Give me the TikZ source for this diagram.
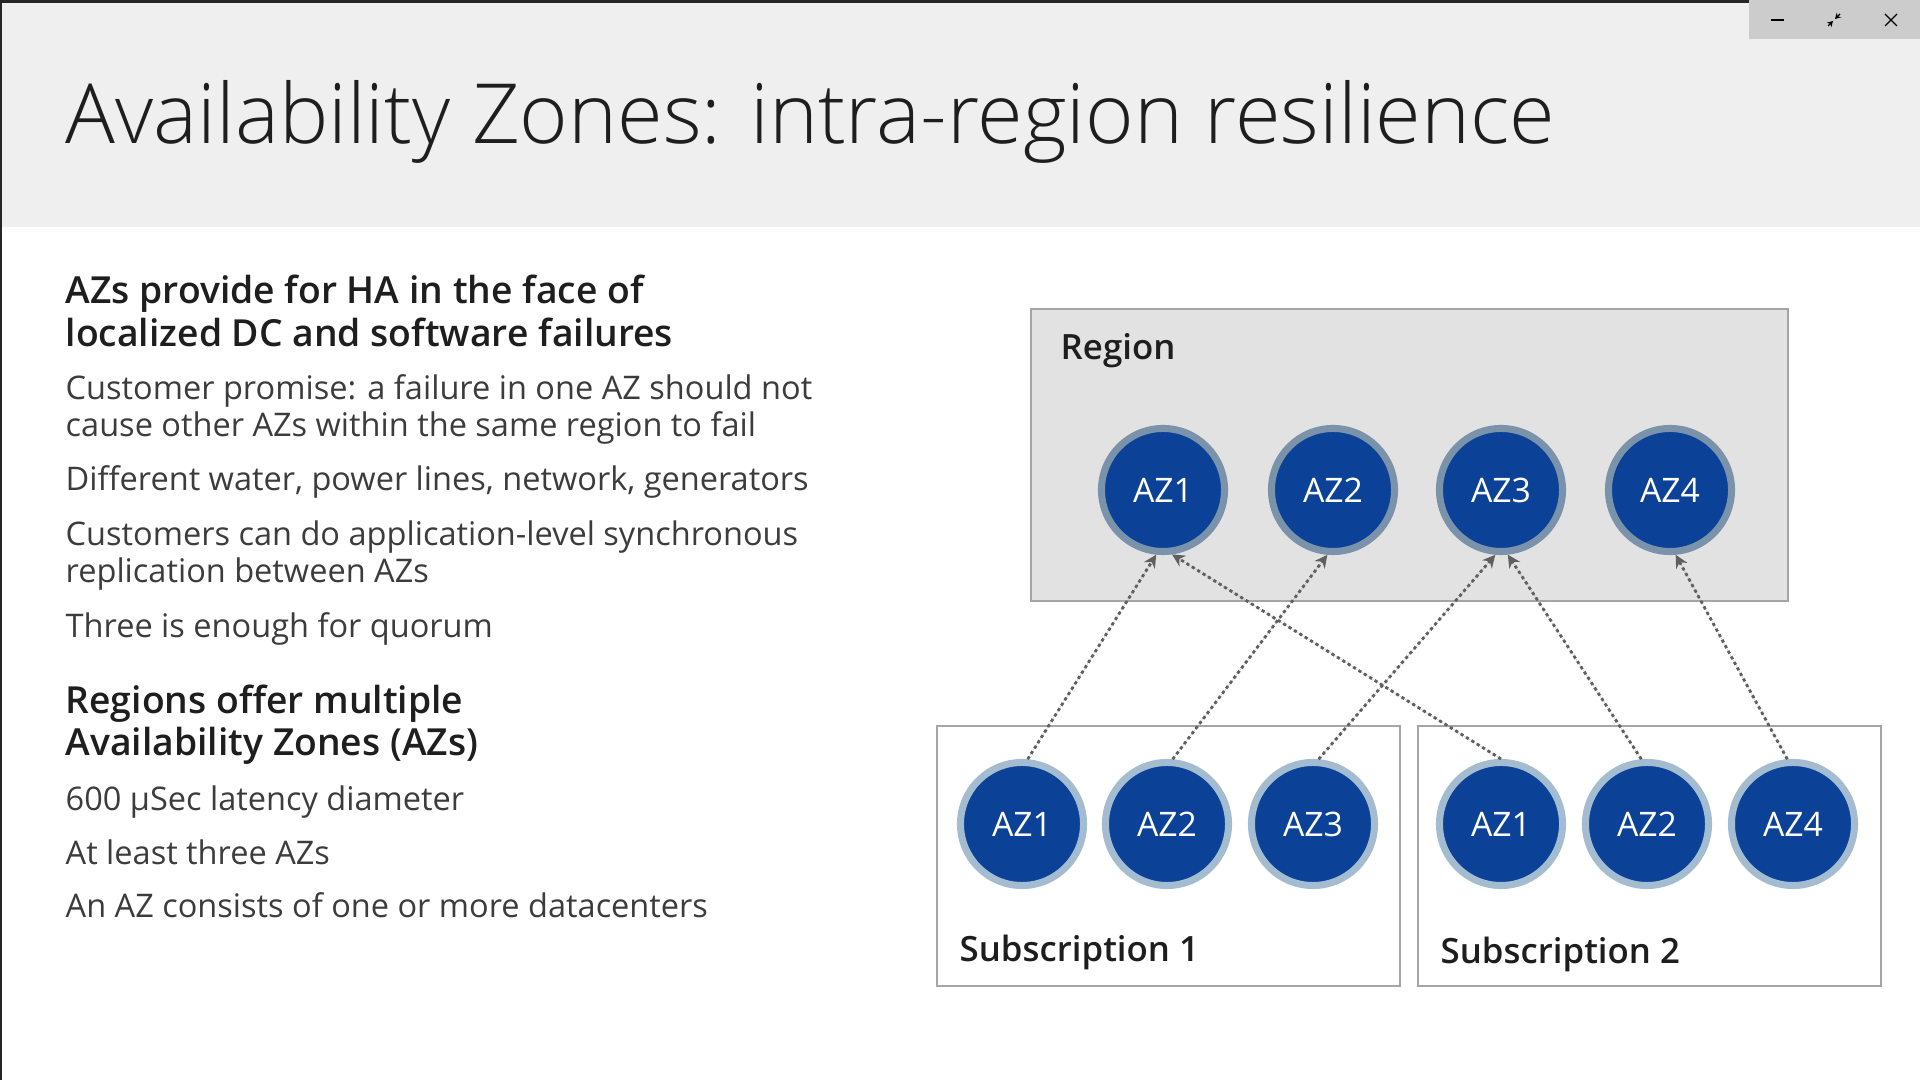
\documentclass[tikz,border=0pt]{standalone}
\usepackage{fontspec}
\usepackage{tikz}
\usetikzlibrary{arrows.meta}
\setmainfont{Open Sans}
\IfFontExistsTF{Open Sans Light}{\newfontfamily\lightfont{Open Sans Light}}{\newfontfamily\lightfont{Open Sans}}
\IfFontExistsTF{Open Sans Semibold}{\newfontfamily\semifont{Open Sans Semibold}}{\newfontfamily\semifont{Open Sans}[FakeBold=1.2]}
\definecolor{barbg}{RGB}{239,239,239}
\definecolor{btngray}{RGB}{204,204,204}
\definecolor{azblue}{RGB}{11,66,152}
\definecolor{ringtop}{RGB}{122,146,170}
\definecolor{ringbot}{RGB}{164,188,208}
\definecolor{regionbg}{RGB}{226,226,226}
\definecolor{boxline}{RGB}{165,165,165}
\definecolor{linkgray}{RGB}{95,95,95}
\definecolor{bodygray}{RGB}{60,60,60}
\definecolor{headgray}{RGB}{30,30,30}

\begin{document}
\begin{tikzpicture}[x=0.01cm,y=-0.01cm,
  zone/.style={circle,fill=azblue,draw=#1,line width=2pt,minimum size=1.23cm,inner sep=0pt,
    text=white,font=\fontsize{9.6}{11}\selectfont},
  link/.style={-{Stealth[length=3.6pt,width=3.6pt]},draw=linkgray,fill=linkgray,line width=0.8pt,
    dash pattern=on 0.9pt off 0.9pt},
  body/.style={anchor=base west,inner sep=0pt,text=bodygray,font=\fontsize{9.25}{11}\selectfont},
  head/.style={anchor=base west,inner sep=0pt,text=headgray,font=\semifont\fontsize{10.6}{12}\selectfont},
  boxlabel/.style={anchor=base west,inner sep=0pt,text=headgray,font=\semifont\fontsize{9.9}{12}\selectfont}]
  \useasboundingbox (0,0) rectangle (1920,1080);
  \fill[white] (0,0) rectangle (1920,1080);
  % title bar and window frame
  \fill[barbg] (0,0) rectangle (1920,227);
  \fill[black!85] (0,0) rectangle (1920,3);
  \fill[black!85] (0,0) rectangle (2,1080);
  \fill[btngray] (1749,0) rectangle (1920,39);
  \draw[black,line width=0.35pt] (1771,20)--(1784,20);
  \draw[black,line width=0.35pt,-{Stealth[length=1.6pt,width=1.8pt]}] (1828,26)--(1833,21);
  \draw[black,line width=0.35pt,-{Stealth[length=1.6pt,width=1.8pt]}] (1840,14)--(1835,19);
  \draw[black,line width=0.35pt] (1885,14)--(1897,26) (1885,26)--(1897,14);
  \node[anchor=base west,inner sep=0pt,text=headgray,font=\lightfont\fontsize{23.6}{26}\selectfont]
    (title) at (65,144) {Availability Zones: intra-region resilience};
  % left column
  \foreach \y/\t in {304/{AZs provide for HA in the face of},347/{localized DC and software failures},
    714/{Regions offer multiple},756/{Availability Zones (AZs)}}
    \node[head] (h\y) at (65,\y) {\t};
  \foreach \y/\t in {400/{Customer promise: a failure in one AZ should not},
    437/{cause other AZs within the same region to fail},
    491/{Different water, power lines, network, generators},
    546/{Customers can do application-level synchronous},
    583/{replication between AZs},
    638/{Three is enough for quorum},
    811/{600 µSec latency diameter},
    865/{At least three AZs},
    918/{An AZ consists of one or more datacenters}}
    \node[body] (b\y) at (65,\y) {\t};
  % region and subscriptions
  \draw[boxline,fill=regionbg,line width=0.6pt] (1031,309) rectangle (1788,601);
  \draw[boxline,fill=white,line width=0.6pt] (937,726) rectangle (1400,986);
  \draw[boxline,fill=white,line width=0.6pt] (1418,726) rectangle (1881,986);
  \node[boxlabel] (region) at (1060,360) {Region};
  \node[boxlabel] (sub1) at (959,962) {Subscription 1};
  \node[boxlabel] (sub2) at (1440,964) {Subscription 2};
  \foreach \x [count=\i] in {1163,1333,1501,1670}
    \node[zone=ringtop] (r\i) at (\x,490) {AZ\i};
  \foreach \x/\n [count=\i] in {1022/1,1167/2,1313/3}
    \node[zone=ringbot] (sa\i) at (\x,824) {AZ\n};
  \foreach \x/\n [count=\i] in {1501/1,1647/2,1793/4}
    \node[zone=ringbot] (sb\i) at (\x,824) {AZ\n};
  % subscription zones map to region zones
  \draw[link] (sa1.85) -- (r1.-96);
  \draw[link] (sa2.85) -- (r2.-95);
  \draw[link] (sa3.85) -- (r3.-95);
  \draw[link] (sb1.north) -- (r1.-82);
  \draw[link] (sb2.95) -- (r3.-84);
  \draw[link] (sb3.95) -- (r4.-85);
\end{tikzpicture}
\end{document}
